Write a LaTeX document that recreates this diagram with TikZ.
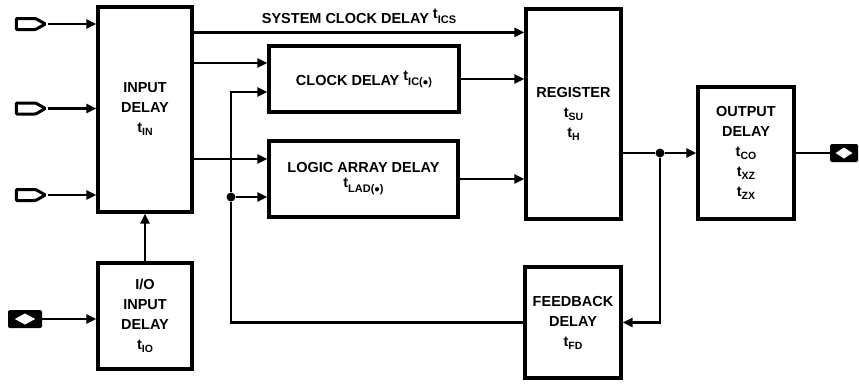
\documentclass[tikz,border=0pt]{standalone}
\usepackage{fontspec}
\setmainfont{Liberation Sans}
\usetikzlibrary{positioning, arrows.meta, shapes.symbols, calc}

\newcommand{\tsb}[1]{t\raisebox{-3pt}{\fontsize{10.5}{10}\selectfont #1}}
\newcommand{\tsp}[1]{\raisebox{5pt}{t}{\fontsize{11}{10}\selectfont #1}}

\tikzset{
  blk/.style={draw, line width=3.2pt, align=center, inner sep=0pt},
  sig/.style={line width=2.4pt, -{Triangle[length=10pt,width=9pt]}},
  wire/.style={line width=2.4pt},
  jdot/.style={circle, fill, inner sep=0pt, minimum size=9pt},
  inpin/.style={signal, signal to=east, signal pointer angle=60, draw, line width=3pt,
    rounded corners=1pt, fill=white, minimum width=29pt, minimum height=11pt, inner sep=0pt},
  biopin/.style={rectangle, fill=black, rounded corners=1.5pt, minimum width=#1,
    minimum height=18pt, inner sep=0pt,
    path picture={\fill[white, sharp corners]
      ([xshift=-0.3*#1]path picture bounding box.center) --
      ([yshift=5.5pt]path picture bounding box.center) --
      ([xshift=0.3*#1]path picture bounding box.center) --
      ([yshift=-5.5pt]path picture bounding box.center) -- cycle;}},
  biopin/.default=34pt
}

\begin{document}
\begin{tikzpicture}[x=1pt, y=-1pt, font=\fontsize{14.5}{20}\selectfont\bfseries]
\useasboundingbox (0,0) rectangle (859,383);

% Input side
\node[blk, minimum width=94pt, minimum height=205pt] (indly) at (145,109.5) {INPUT\\DELAY\\\tsb{IN}};
\node[blk, minimum width=94pt, minimum height=106pt] (iodly) at (145,316) {I/O\\INPUT\\DELAY\\\tsb{IO}};
\node[inpin] (in1) at (26,24) {};
\node[inpin] (in2) at (26,108.5) {};
\node[inpin] (in3) at (26,195) {};
\node[biopin] (iopin) at (25,319) {};

% Delay paths
\node[blk, minimum width=190pt, minimum height=66pt] (clkdly) at (364,79) {CLOCK DELAY \tsp{IC($\bullet$)}};
\node[blk, minimum width=189pt, minimum height=76pt] (ladly) at (363.5,179) {LOGIC ARRAY DELAY\\\tsp{LAD($\bullet$)}};

% Register, output, feedback
\node[blk, minimum width=95pt, minimum height=210pt] (reg) at (573.5,114) {REGISTER\\\tsb{SU}\\\tsb{H}};
\node[blk, minimum width=96pt, minimum height=132pt] (outdly) at (746,153) {OUTPUT\\DELAY\\\tsb{CO}\\\tsb{XZ}\\\tsb{ZX}};
\node[blk, minimum width=96pt, minimum height=111pt] (fbdly) at (573,322.5) {FEEDBACK\\DELAY\\\tsb{FD}};
\node[biopin=28pt] (outpin) at (844,153) {};

% Junctions
\node[jdot] (split) at (660,153) {};
\node[jdot] (fbsplit) at (231,197) {};
\coordinate (sysclk) at ([yshift=-25pt]reg.north west);
\coordinate (clkin) at ([yshift=16pt]clkdly.west);
\coordinate (fbin) at ([yshift=-13pt]clkdly.west);
\coordinate (lain) at ([yshift=20pt]ladly.west);

% Connections
\foreach \p in {in1,in2,in3}
  \draw[sig] (\p.east) -- (\p.east -| indly.west);
\draw[sig] (iopin.east) -- (iopin.east -| iodly.west);
\draw[sig] (iodly.north) -- (indly.south);
\draw[sig] (indly.east |- sysclk) -- (sysclk)
  node[midway, above=4pt] {SYSTEM CLOCK DELAY \tsp{ICS}};
\draw[sig] (indly.east |- clkin) -- (clkin);
\draw[sig] (indly.east |- lain) -- (lain);
\draw[sig] (clkdly.east) -- (clkdly.east -| reg.west);
\draw[sig] (ladly.east) -- (ladly.east -| reg.west);
\draw[wire] (split -| reg.east) -- (split);
\draw[sig] (split) -- (outdly.west);
\draw[wire] (outdly.east) -- (outpin.west);
\draw[sig] (split) |- (fbdly.east);
\draw[sig] (fbdly.west) -| (fbsplit) |- (fbin);
\draw[sig] (fbsplit) -- (fbsplit -| ladly.west);
\end{tikzpicture}
\end{document}
